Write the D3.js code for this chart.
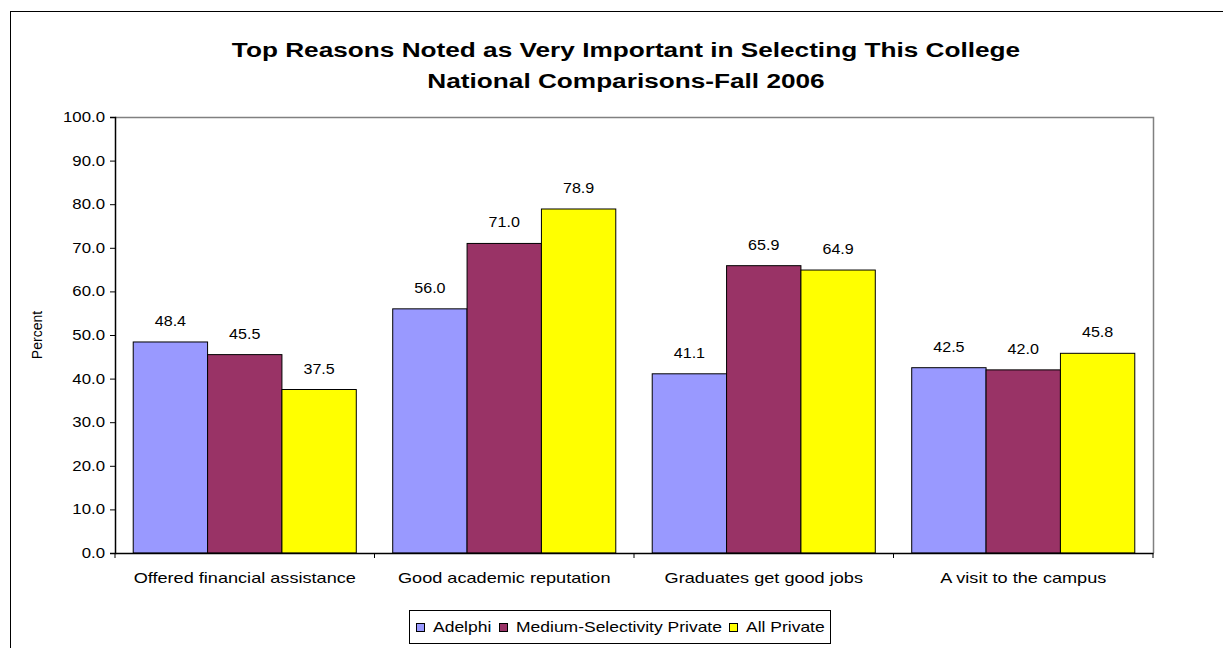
<!DOCTYPE html>
<html>
<head>
<meta charset="utf-8">
<script src="https://cdn.jsdelivr.net/npm/d3@7"></script>
<style>
  body { margin: 0; background: #fff; }
  text { font-family: "Liberation Sans", Arial, sans-serif; fill: #000; }
</style>
</head>
<body>
<script>
// donnees du graphique
const categories = ["Offered financial assistance", "Good academic reputation", "Graduates get good jobs", "A visit to the campus"];
const series = ["Adelphi", "Medium-Selectivity Private", "All Private"];
const adelphi = [48.4, 56.0, 41.1, 42.5];
const mediumPrivate = [45.5, 71.0, 65.9, 42.0];
const allPrivate = [37.5, 78.9, 64.9, 45.8];
const couleurs = ["#9999FF", "#993366", "#FFFF00"];
const yTicks = [0, 10, 20, 30, 40, 50, 60, 70, 80, 90, 100];

const largeur = 1223;
const hauteur = 648;

// zone du trace
const gauche = 115, droite = 1153, haut = 117, bas = 553;

// l'image de reference est etiree horizontalement : on etire le texte pareil
function texteEtire(parent, x, y, sx, str) {
    return parent.append("text")
        .attr("transform", `translate(${x},${y}) scale(${sx},1)`)
        .text(str);
}

const svg = d3.select("body").append("svg")
    .attr("width", largeur)
    .attr("height", hauteur);

// cadre exterieur (seuls les bords haut et gauche sont visibles)
svg.append("rect")
    .attr("x", 10.5).attr("y", 11.5)
    .attr("width", 1240).attr("height", 660)
    .attr("fill", "none").attr("stroke", "#000").attr("stroke-width", 1);

// titre
texteEtire(svg, 626, 57, 1.31, "Top Reasons Noted as Very Important in Selecting This College")
    .attr("text-anchor", "middle").style("font-size", "20px").style("font-weight", "bold");
texteEtire(svg, 626, 88, 1.31, "National Comparisons-Fall 2006")
    .attr("text-anchor", "middle").style("font-size", "20px").style("font-weight", "bold");

const x0 = d3.scaleBand().domain(categories).range([gauche, droite]).paddingInner(0).paddingOuter(0);
const x1 = d3.scaleBand().domain(series).range([0, x0.bandwidth()]).paddingInner(0).paddingOuter(0.245);
const y = d3.scaleLinear().domain([0, 100]).range([bas, haut]);

// bordure de la zone de trace (haut et droite en gris)
svg.append("path")
    .attr("d", `M${gauche},${haut + 0.5}H${droite + 0.5}V${bas}`)
    .attr("fill", "none").attr("stroke", "#808080").attr("stroke-width", 1.5);

const valeurs = [adelphi, mediumPrivate, allPrivate];
const donnees = [];
categories.forEach((c, i) => {
    series.forEach((s, k) => {
        donnees.push({ cat: c, serie: s, v: valeurs[k][i], k: k });
    });
});

// barres
svg.append("g").selectAll("rect")
    .data(donnees)
    .join("rect")
    .attr("x", d => x0(d.cat) + x1(d.serie))
    .attr("y", d => y(d.v))
    .attr("width", x1.bandwidth())
    .attr("height", d => y(0) - y(d.v))
    .attr("fill", d => couleurs[d.k])
    .attr("stroke", "#000")
    .attr("stroke-width", 1);

// etiquettes des valeurs
svg.append("g").selectAll("text")
    .data(donnees)
    .join("text")
    .attr("transform", d => `translate(${x0(d.cat) + x1(d.serie) + x1.bandwidth() / 2},${y(d.v) - 16}) scale(1.15,1)`)
    .attr("text-anchor", "middle")
    .style("font-size", "14px")
    .text(d => d.v.toFixed(1));

// axe Y
const axeY = svg.append("g")
    .attr("transform", `translate(${gauche},0)`)
    .call(d3.axisLeft(y).tickValues(yTicks).tickFormat(d3.format(".1f")).tickSize(5));
axeY.select(".domain").attr("stroke", "#000").attr("stroke-width", 1.5);
axeY.selectAll(".tick text")
    .attr("x", -10 / 1.2)
    .attr("transform", "scale(1.2,1)")
    .style("font-size", "14px").style("font-family", "Liberation Sans, Arial, sans-serif");

// axe X
const axeX = svg.append("g")
    .attr("transform", `translate(0,${bas})`)
    .call(d3.axisBottom(x0).tickSize(0).tickPadding(20));
axeX.select(".domain").attr("stroke", "#000").attr("stroke-width", 1.5);
axeX.selectAll(".tick text")
    .attr("transform", "scale(1.25,1)")
    .style("font-size", "14.5px").style("font-family", "Liberation Sans, Arial, sans-serif");
// petites graduations entre categories
axeX.selectAll("line.sep")
    .data(d3.range(categories.length + 1))
    .join("line")
    .attr("class", "sep")
    .attr("x1", i => gauche + i * x0.step())
    .attr("x2", i => gauche + i * x0.step())
    .attr("y1", 0).attr("y2", 5)
    .attr("stroke", "#000");

// titre axe Y
svg.append("text")
    .attr("transform", "translate(42,335) rotate(-90)")
    .attr("text-anchor", "middle")
    .style("font-size", "14px")
    .text("Percent");

// legende
const legende = svg.append("g");
legende.append("rect")
    .attr("x", 409.5).attr("y", 610.5)
    .attr("width", 421).attr("height", 33)
    .attr("fill", "#fff").attr("stroke", "#000").attr("stroke-width", 1);
const posLegende = [416, 499, 729];
series.forEach((s, k) => {
    legende.append("rect")
        .attr("x", posLegende[k] + 0.5).attr("y", 623.5)
        .attr("width", 8).attr("height", 8)
        .attr("fill", couleurs[k]).attr("stroke", "#000");
    texteEtire(legende, posLegende[k] + 17, 632, 1.25, s)
        .style("font-size", "14px");
});
</script>
</body>
</html>
